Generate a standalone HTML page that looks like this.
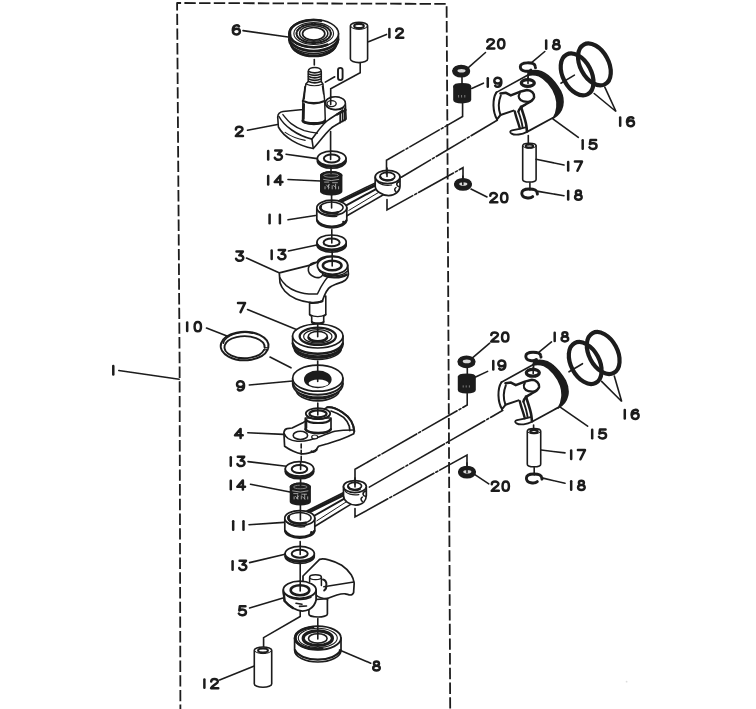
<!DOCTYPE html>
<html><head><meta charset="utf-8"><title>Crankshaft &amp; Piston</title>
<style>
html,body{margin:0;padding:0;background:#fff;font-family:"Liberation Sans",sans-serif;}
svg{display:block}
.o{fill:#fff;stroke:#1c1c1c;stroke-linejoin:round;stroke-linecap:round}
.n{fill:none;stroke:#1c1c1c;stroke-linejoin:round;stroke-linecap:round}
.l{fill:none;stroke:#1c1c1c;stroke-linecap:round}
.k{fill:#1c1c1c;stroke:#1c1c1c;stroke-linejoin:round}
.t path{fill:none;stroke:#1c1c1c;stroke-linecap:round;stroke-linejoin:round}
.h{fill:none;stroke:#1c1c1c;stroke-linecap:round}
.w{fill:#fff;stroke:none}
</style></head>
<body>
<svg width="756" height="709" viewBox="0 0 756 709">
<defs><filter id="b" x="0" y="0" width="756" height="709" filterUnits="userSpaceOnUse"><feGaussianBlur stdDeviation="0.5"/></filter></defs>
<rect width="756" height="709" fill="#fff"/>
<g stroke-width="1.6" filter="url(#b)">
<path class="n" d="M180.4 712 L179.6 365 L177.1 3 L446.6 3.9 L447.5 150 L449 450 L450.2 712" stroke-dasharray="11.4 3.3" stroke-dashoffset="4" stroke-width="1.8" style="stroke-linecap:butt"/>
<g class="t"><path d="M 113.28 366.06 V 374.43" stroke-width="2.5"/></g>
<path class="l" d="M118.8 370.5 L179.2 379.2" />
<path class="o" d="M291.09999999999997 39.5 V43.5 A22.6 13 0 0 0 336.3 43.5 V39.5 Z" />
<path class="n" d="M291.09999999999997 42.7 A22.6 13 0 0 0 336.3 42.7" stroke-width="2.8"/>
<path class="o" d="M288.9 33.5 V39.5 A24.8 14 0 0 0 338.5 39.5 V33.5 Z" />
<path class="n" d="M289.29999999999995 39.5 A24.8 14 0 0 0 338.1 39.5" stroke-width="2.6"/>
<ellipse class="o" cx="313.7" cy="33.5" rx="24.8" ry="14" stroke-width="1.6"/>
<path class="n" d="M327.34 44.7 A23.8 13 0 0 1 289.9 33.5 A23.8 13 0 0 1 321.14 20.7" stroke-width="2.6"/>
<ellipse class="n" cx="313.7" cy="33.5" rx="19.840000000000003" ry="10.92" stroke-width="1.1"/>
<ellipse class="n" cx="313.7" cy="33.5" rx="17.112" ry="9.38" stroke-width="2.2" stroke-dasharray="1.6 1.6" stroke="#555"/>
<ellipse class="n" cx="313.7" cy="33.5" rx="14.136" ry="7.840000000000001" stroke-width="1.5"/>
<ellipse class="o" cx="313.7" cy="33.8" rx="11.16" ry="6.3" stroke-width="1.7"/>
<path class="l" d="M314.3 59.5 L314.3 65" />
<path class="o" d="M350.4 25.8 V59.0 A8.6 3.6 0 0 0 367.6 59.0 V25.8 A8.6 3.6 0 0 0 350.4 25.8 Z" stroke-width="1.6"/>
<path class="n" d="M350.4 25.8 A8.6 3.6 0 0 0 367.6 25.8" stroke-width="1.0"/>
<ellipse class="o" cx="359" cy="26.0" rx="4.816" ry="2.16" stroke-width="2.1"/>
<path class="l" d="M360.2 63 V72.7 L330.7 88.8 V104" />
<g class="t"><path d="M 389.38 28.96 V 37.33" stroke-width="2.5"/><path d="M 396.20 31.08 C 396.20 27.67 402.87 27.67 402.87 30.89 C 402.87 33.10 397.87 34.57 396.10 37.70 H 403.26" stroke-width="2.5"/></g>
<path class="l" d="M386.5 34.4 L368.5 41.7" />
<g class="t"><path d="M 239.07 26.40 C 237.40 24.56 232.79 25.02 232.79 30.26 C 232.79 35.78 239.85 35.60 239.85 31.46 C 239.85 27.78 233.97 27.96 232.89 31.09" stroke-width="2.5"/></g>
<path class="l" d="M243 30.6 L288 37" />
<path class="o" d="M277.7 117 C278 113 280.5 111.8 283 111.5 L303 109.5 L325.5 103 C326 94.8 345 94.8 345.4 104 L346.1 119 L334.7 125.7 C328 129 323 138 313.3 148.5 C298 145.5 284 137.5 278.4 127 Z" stroke-width="1.6"/>
<path class="n" d="M279 116.5 C284 126 297 135.5 311.9 139.1 C318 131 322 125 327 121 C332 117 338 114 342.5 110.5" />
<path class="n" d="M285.1 132.4 C291 136.5 298 139 305.2 140.4" stroke-width="1.1"/>
<path class="n" d="M311.9 139.1 L313.3 148.5" />
<path class="n" d="M282.9 114.6 C286 118.5 288.5 121.5 291.2 123.6 C295 126.6 299.5 129 304.3 130.7 C308.5 132 313 132.8 317.4 133.1" stroke-width="1.4"/>
<ellipse class="o" cx="335.4" cy="103.2" rx="10" ry="6.4" stroke-width="1.5"/>
<path class="n" d="M326 105 C328 110.5 339 111.5 344 107.5" stroke-width="1.2"/>
<ellipse class="o" cx="331.6" cy="103.6" rx="4.6" ry="3.0" stroke-width="1.4"/>
<path class="n" d="M342.6 110 V121.5 M344.8 108.6 V120.4 M340.2 112.6 V122.6" stroke-width="1.7"/>
<path class="n" d="M337 114.5 L345.6 110" stroke-width="2.2"/>
<path class="o" d="M302.5 121 L302.9 101 L305.9 84 L308.2 81.5 V71.5 C308.2 66 321.3 66 321.3 71.5 V81.5 L322.9 84 L324.7 101 L325.3 121 A11.4 3.4 0 0 1 302.5 121 Z" stroke-width="1.5"/>
<path class="n" d="M308.6 71.5 Q314.7 74.1 321 71.5" stroke-width="1.7"/>
<path class="n" d="M308.6 74 Q314.7 76.6 321 74" stroke-width="1.7"/>
<path class="n" d="M308.6 76.5 Q314.7 79.1 321 76.5" stroke-width="1.7"/>
<path class="n" d="M308.6 79 Q314.7 81.6 321 79" stroke-width="1.7"/>
<path class="n" d="M308.6 81.5 Q314.7 84.1 321 81.5" stroke-width="1.7"/>
<path class="n" d="M303 101 Q313.8 105.6 324.6 101" stroke-width="2.4"/>
<path class="n" d="M305.9 84 Q314.4 87.6 322.9 84" stroke-width="1.1"/>
<path class="n" d="M302.9 120.8 A11.4 3.4 0 0 0 325 120.8" stroke-width="2.8"/>
<path class="n" d="M303.9 104 L303.6 119" stroke-width="2.2"/>
<path class="n" d="M305 87 L304 99" stroke-width="1.8"/>
<path class="n" d="M322.3 86 l1.2 8" stroke-width="1.2"/>
<path class="o" d="M338 70.2 a2.3 2.3 0 0 1 4.6 0 v7.6 a2.3 2.3 0 0 1 -4.6 0 Z" stroke-width="1.9"/>
<path class="l" d="M325.3 82.1 L334.7 76.8" />
<g class="t"><path d="M 235.89 129.38 C 235.89 125.97 242.56 125.97 242.56 129.19 C 242.56 131.40 237.56 132.87 235.80 136.00 H 242.95" stroke-width="2.5"/></g>
<path class="l" d="M247.5 130.3 L277.5 124.5" />
<path class="o" d="M317.4 158.3 V161.10000000000002 A14.3 7.2 0 0 0 346.0 161.10000000000002 V158.3 Z" stroke-width="1.6"/>
<path class="n" d="M317.7 161.10000000000002 A14.3 7.2 0 0 0 345.7 161.10000000000002" stroke-width="2.0"/>
<ellipse class="o" cx="331.7" cy="158.3" rx="14.3" ry="7.2" stroke-width="1.7"/>
<ellipse class="o" cx="331.7" cy="158.5" rx="7.865000000000001" ry="3.9600000000000004" stroke-width="2.0"/>
<g class="t"><path d="M 268.18 151.06 V 159.43" stroke-width="2.5"/><path d="M 275.20 150.60 H 281.57 L 278.04 154.37 C 283.14 153.91 283.33 159.80 278.24 159.80 C 276.47 159.80 275.30 159.06 274.81 157.78" stroke-width="2.5"/></g>
<path class="l" d="M286 154.2 L317.3 158.6" />
<path class="k" d="M320.8 175.3 V191.29999999999998 A10.4 3.4 0 0 0 341.59999999999997 191.29999999999998 V175.3 A10.4 3.4 0 0 0 320.8 175.3 Z" />
<ellipse class="k" cx="331.2" cy="175.3" rx="10.4" ry="3.4" />
<ellipse cx="331.2" cy="175.5" rx="7.4" ry="1.7999999999999998" fill="none" stroke="#999" stroke-width="0.8"/>
<path d="M325.0 186.29999999999998 v3" stroke="#aaa" stroke-width="0.9" fill="none"/>
<path d="M328.59999999999997 184.29999999999998 v5" stroke="#aaa" stroke-width="0.9" fill="none"/>
<path d="M332.2 185.29999999999998 v4" stroke="#aaa" stroke-width="0.9" fill="none"/>
<path d="M335.59999999999997 183.79999999999998 v5.5" stroke="#aaa" stroke-width="0.9" fill="none"/>
<path d="M338.59999999999997 186.29999999999998 v3" stroke="#aaa" stroke-width="0.9" fill="none"/>
<path d="M324.2 182.10000000000002 h5 M332.2 182.70000000000002 h5.6 M323.2 179.3 q8 2.6 16 0" stroke="#aaa" stroke-width="0.9" fill="none"/>
<path d="M326.2 184.70000000000002 l3 3 M333.2 185.20000000000002 l3 2.6 M329.7 184.3 l-2.4 3" stroke="#bbb" stroke-width="0.8" fill="none"/>
<g class="t"><path d="M 268.18 176.06 V 184.43" stroke-width="2.5"/><path d="M 280.29 184.80 V 175.60 L 274.71 182.04 H 282.45" stroke-width="2.5"/></g>
<path class="l" d="M288 179.5 L320.5 181" />
<path class="o" d="M338.8 200.60000000000002 L376.00000000000006 182.6 L383.8 194.5 L347.0 215.8 Z" stroke-width="1.6"/>
<path class="n" d="M341.3 201.4 L377.20000000000005 184.2" stroke-width="3"/>
<path class="n" d="M345.8 205.60000000000002 L378.70000000000005 187.6" stroke-width="1.9"/>
<path class="n" d="M348.8 210.4 L380.6 191.2" stroke-width="1.0"/>
<path class="o" d="M375.20000000000005 177 V186 C375.20000000000005 191 381.6 195.3 388.6 195.6 C395.6 195.3 400.0 191 400.0 186 V177 Z" stroke-width="1.7"/>
<ellipse class="o" cx="387.6" cy="177" rx="12.4" ry="6.572000000000001" stroke-width="1.7"/>
<ellipse class="o" cx="387.40000000000003" cy="176.4" rx="7.4399999999999995" ry="3.9432000000000005" stroke-width="1.7"/>
<path class="n" d="M380.408 177 A7.4399999999999995 3.9432000000000005 0 0 0 392.6 179.4" stroke-width="2.2"/>
<path class="n" d="M399.4 181.5 q-3 1 -2.6 3.2 q0.3 1.8 2.4 2" stroke-width="1.6"/>
<path class="n" d="M396.0 187.5 q-2.6 1.8 0 4.4" stroke-width="1.5"/>
<path class="n" d="M376.20000000000005 180 C378.6 184.5 385.6 186 391.6 185" stroke-width="1.2"/>
<path class="o" d="M316.8 207.8 V219.8 A15 8 0 0 0 346.8 219.8 V207.8 Z" stroke-width="1.7"/>
<ellipse class="o" cx="331.8" cy="207.8" rx="15" ry="7.6" stroke-width="1.7"/>
<path class="n" d="M317.2 220.4 A15 8 0 0 0 346.40000000000003 220.4" stroke-width="2.2"/>
<ellipse class="o" cx="331.5" cy="207.60000000000002" rx="11.6" ry="5.5" stroke-width="1.5"/>
<path class="n" d="M320.8 206.3 A11.6 5.5 0 0 0 337.8 212.4" stroke-width="2.6"/>
<path class="n" d="M317.8 210.8 C321.8 215.8 329.8 217.3 336.8 216.3" stroke-width="1.3"/>
<circle cx="343.40000000000003" cy="222.0" r="1.3" fill="#1c1c1c"/>
<g class="t"><path d="M 269.58 214.86 V 223.23" stroke-width="2.5"/><path d="M 279.88 214.86 V 223.23" stroke-width="2.5"/></g>
<path class="l" d="M288 219.8 L315.5 215.5" />
<path class="l" d="M386.5 174 V160.3 L462.6 116.5 V103" stroke-dasharray="34 2.2 2.2 2.2"/>
<path class="l" d="M401.3 177.2 L497.6 120" stroke-dasharray="34 2.2 2.2 2.2"/>
<path class="l" d="M387 199.5 V210 L463 167.7 V181.5" stroke-dasharray="40 2.2 2.2 2.2"/>
<path class="o" d="M317.0 242.2 V245.0 A14.6 7.2 0 0 0 346.20000000000005 245.0 V242.2 Z" stroke-width="1.6"/>
<path class="n" d="M317.3 245.0 A14.6 7.2 0 0 0 345.90000000000003 245.0" stroke-width="2.0"/>
<ellipse class="o" cx="331.6" cy="242.2" rx="14.6" ry="7.2" stroke-width="1.7"/>
<ellipse class="o" cx="331.6" cy="242.39999999999998" rx="8.030000000000001" ry="3.9600000000000004" stroke-width="2.0"/>
<g class="t"><path d="M 271.68 250.56 V 258.93" stroke-width="2.5"/><path d="M 278.70 250.10 H 285.07 L 281.54 253.87 C 286.64 253.41 286.83 259.30 281.74 259.30 C 279.97 259.30 278.80 258.56 278.31 257.28" stroke-width="2.5"/></g>
<path class="l" d="M288.5 251 L318 244.8" />
<path class="o" d="M309.6 298 V314.6 L311.7 316.4 V322 A6 1.8 0 0 0 323.7 322 V316.4 L325.8 314.6 V296 Z" stroke-width="1.6"/>
<path class="n" d="M309.6 314.6 Q317.7 318.6 325.8 314.6" stroke-width="1.4"/>
<path class="n" d="M311.9 321.8 A6 1.8 0 0 0 323.5 321.8" stroke-width="1.9"/>
<path class="o" d="M279.3 272.9 L310.3 265.1 L317.4 262 C320 253.6 347.5 253.6 347.7 265.9 L348.4 274.3 C348 277.6 346.6 279 345.6 280 C342 282.6 339 283 335.7 284.2 C332.5 285.4 330.4 286.6 328.6 288.4 C326.4 291 325.2 293.6 324.4 295.5 L322.3 301.1 C318 302.8 314 303 310.3 302.5 C305 301.8 300 300.6 296.2 299 C291.4 297 287.6 294.2 284.9 291.2 C282.4 288.4 280.8 285.6 280 282.8 Z" stroke-width="1.7"/>
<path class="n" d="M279.8 277.5 C281.4 280.6 283.6 283.2 286.3 285.6 C289 287.8 292.4 289.8 296.2 291.2 C302 293.4 310 294.4 317.4 294 C319.4 289.6 321.6 285.4 324.4 281.4 C326 279 328 276.8 330 275" stroke-width="1.5"/>
<path class="n" d="M309.8 302.6 Q316 303.4 322.4 301.2" stroke-width="2.2"/>
<ellipse class="o" cx="332.5" cy="265.5" rx="15.1" ry="8.8" stroke-width="1.7"/>
<path class="n" d="M318.6 269.5 C322 276.6 340 278.6 347.6 271" stroke-width="1.5"/>
<path class="n" d="M324 275.4 C330 278.4 341 278 346.6 274.6" stroke-width="2.4"/>
<ellipse class="o" cx="332.2" cy="265.5" rx="9.3" ry="4.8" stroke-width="2.6"/>
<path class="n" d="M317 262.2 C312.6 262.2 309 264.2 308.4 268.2 C307.8 272 310.4 275.4 314.4 277 C318 278.4 321.6 277.4 322.6 275 C323.4 273.2 322.4 272 320.4 271.4" stroke-width="1.6"/>
<g class="t"><path d="M 236.49 251.60 H 242.86 L 239.33 255.37 C 244.43 254.91 244.62 260.80 239.53 260.80 C 237.76 260.80 236.59 260.06 236.10 258.78" stroke-width="2.5"/></g>
<path class="l" d="M246.5 258 L278.5 272.4" />
<path class="o" d="M294.20000000000005 344 V348 A23.599999999999998 11.5 0 0 0 341.4 348 V344 Z" stroke-width="1.6"/>
<path class="n" d="M294.5 347.8 A23.599999999999998 11.5 0 0 0 341.1 347.8" stroke-width="2.6"/>
<path class="o" d="M292.6 336 V344 A25.2 12 0 0 0 343.0 344 V336 Z" stroke-width="1.7"/>
<path class="n" d="M292.90000000000003 343.6 A25.2 12 0 0 0 342.7 343.6" stroke-width="2.6"/>
<ellipse class="o" cx="317.8" cy="336" rx="25.2" ry="12" stroke-width="1.7"/>
<ellipse class="n" cx="317.8" cy="336.3" rx="18.144" ry="8.64" stroke-width="2.3"/>
<ellipse class="n" cx="317.8" cy="336.4" rx="14.112" ry="6.720000000000001" stroke-width="1.2"/>
<ellipse class="o" cx="317.8" cy="336.4" rx="9.576" ry="5.04" stroke-width="1.6"/>
<path class="n" d="M308.728 338 A9.576 5.04 0 0 0 326.872 338" stroke-width="2.8"/>
<path class="n" d="M297.0 348.2 l1.6 1.4" stroke-width="1.4"/>
<g class="t"><path d="M 238.00 302.90 H 245.05 L 240.54 312.10" stroke-width="2.5"/></g>
<path class="l" d="M247.5 309.5 L296.4 329.4" />
<g transform="translate(244.8 345.3)"><path class="n" d="M22.9 4.4 A23.9 14.2 0 1 1 23.5 2.6" stroke-width="2.0"/><path class="n" d="M19.2 4.6 A20.1 11.0 0 1 1 19.8 2.4" stroke-width="1.9"/><path class="n" d="M22.9 4.4 L19.2 4.6 M23.5 2.6 L19.8 2.4" stroke-width="1.3"/><path class="n" d="M-21.5 -2 A22 12.7 0 0 1 8 -12.2" stroke-width="1.6"/></g>
<g class="t"><path d="M 187.18 322.56 V 330.93" stroke-width="2.5"/><path d="M 197.78 322.10 C 193.52 322.10 193.52 331.30 197.78 331.30 C 202.05 331.30 202.05 322.10 197.78 322.10 Z" stroke-width="2.5"/></g>
<path class="l" d="M206.5 328 L227 336" />
<path class="l" d="M270 357 L291 367.8" />
<path class="o" d="M295.7 384.2 V388.7 A22.1 12.2 0 0 0 339.90000000000003 388.7 V384.2 Z" stroke-width="1.6"/>
<path class="n" d="M296.0 388.5 A22.1 12.2 0 0 0 339.6 388.5" stroke-width="2.2"/>
<path class="o" d="M292.7 378.2 V384.2 A25.1 13 0 0 0 342.90000000000003 384.2 V378.2 Z" stroke-width="1.7"/>
<path class="n" d="M293.0 383.8 A25.1 13 0 0 0 342.6 383.8" stroke-width="2.0"/>
<ellipse class="o" cx="317.8" cy="378.2" rx="25.1" ry="13" stroke-width="1.7"/>
<ellipse class="k" cx="317.8" cy="379.4" rx="13.052000000000001" ry="8.06" />
<ellipse cx="318.6" cy="383.2" rx="10.040000000000001" ry="3.6400000000000006" fill="#fff" stroke="none"/>
<g class="t"><path d="M 237.88 389.40 C 239.45 391.24 244.06 390.78 244.06 385.54 C 244.06 380.02 237.00 380.20 237.00 384.34 C 237.00 388.02 242.88 387.84 243.96 384.71" stroke-width="2.5"/></g>
<path class="l" d="M249.3 385 L292.6 381" />
<path class="o" d="M283.9 432.4 C284.4 429.6 285.6 428.8 287.1 428.6 L292.1 428 L303.4 422.4 L327.3 407.3 C333 406.6 338 409.4 342.4 412.3 C346.6 415 349.4 418 351.2 421.1 C353 424.4 354 427.8 354.3 431.2 L353.7 433.7 C350 435.6 346.4 437.2 342.4 438.7 C337.6 440.6 332.4 442.2 327.3 443.8 L318.5 446.3 L316 450 C313.6 451.6 311 452.6 308.4 453.2 C306.4 453.7 304.2 453.9 302.2 453.8 C299 453.6 296 452.6 293.4 451.3 C290.2 449.8 287.2 448.2 284.6 446.3 Z" stroke-width="1.7"/>
<path class="n" d="M331 411 C335.6 412.4 339.8 414.6 343.6 417.4 C346.4 420 348.2 423 349.3 426.2 L349.8 430.6" stroke-width="1.7"/>
<path class="n" d="M327.3 407.3 C333 406.6 338 409.4 342.4 412.3 C346.6 415 349.4 418 351.2 421.1 C353 424.4 354 427.8 354.3 431.2" stroke-width="2.0"/>
<path class="n" d="M284.2 433.6 C285.2 436 286.6 437.6 288.3 438.7 C291 440.3 294 441 297.1 441.2 C301.4 441.4 305.6 441 309.7 440 C313.6 439 317.4 437.6 321 436.2 C325.6 434.4 330.2 432.6 334.8 431.2 C341 430.2 347.4 430 353.7 430" stroke-width="1.5"/>
<ellipse class="o" cx="300.4" cy="435.4" rx="7.2" ry="4.1" stroke-width="1.6"/>
<ellipse class="o" cx="314.7" cy="436.9" rx="3.0" ry="1.9" stroke-width="1.2"/>
<path class="n" d="M311.6 451.4 q2.4 1.4 5 -1.6" stroke-width="2.2"/>
<path class="o" d="M305.3 418 V429.2 A12.9 4.6 0 0 0 331 429.2 V418 Z" stroke-width="1.7"/>
<path class="n" d="M305.6 429.4 A12.9 4.6 0 0 0 330.7 429.4" stroke-width="2.6"/>
<path class="n" d="M306 419.6 A12.4 4.4 0 0 0 330.2 419.6" stroke-width="2.0"/>
<path class="n" d="M306.2 420 V428" stroke-width="2.2"/>
<ellipse class="o" cx="318" cy="413.6" rx="12.2" ry="5.4" stroke-width="1.8"/>
<ellipse class="o" cx="318" cy="413.8" rx="8.6" ry="3.5" stroke-width="2.3"/>
<path class="n" d="M306.4 415.6 A12.2 5.4 0 0 0 329.6 415.6" stroke-width="1.3"/>
<g class="t"><path d="M 240.59 438.10 V 428.90 L 235.00 435.34 H 242.74" stroke-width="2.5"/></g>
<path class="l" d="M247.8 432.7 L283.5 434.4" />
<path class="l" d="M301.2 444 V466" stroke-dasharray="4 2.2"/>
<path class="o" d="M285.3 468.8 V471.6 A14.2 7.2 0 0 0 313.7 471.6 V468.8 Z" stroke-width="1.6"/>
<path class="n" d="M285.6 471.6 A14.2 7.2 0 0 0 313.4 471.6" stroke-width="2.0"/>
<ellipse class="o" cx="299.5" cy="468.8" rx="14.2" ry="7.2" stroke-width="1.7"/>
<ellipse class="o" cx="299.5" cy="469.0" rx="7.8100000000000005" ry="3.9600000000000004" stroke-width="2.0"/>
<g class="t"><path d="M 230.78 457.26 V 465.63" stroke-width="2.5"/><path d="M 237.80 456.80 H 244.17 L 240.64 460.57 C 245.74 460.11 245.93 466.00 240.84 466.00 C 239.07 466.00 237.90 465.26 237.41 463.98" stroke-width="2.5"/></g>
<path class="l" d="M248 461.6 L286.3 466.2" />
<path class="k" d="M290.5 486.79999999999995 V501.40000000000003 A9.8 3.4 0 0 0 310.1 501.40000000000003 V486.79999999999995 A9.8 3.4 0 0 0 290.5 486.79999999999995 Z" />
<ellipse class="k" cx="300.3" cy="486.79999999999995" rx="9.8" ry="3.4" />
<ellipse cx="300.3" cy="486.99999999999994" rx="6.800000000000001" ry="1.7999999999999998" fill="none" stroke="#999" stroke-width="0.8"/>
<path d="M294.1 496.40000000000003 v3" stroke="#aaa" stroke-width="0.9" fill="none"/>
<path d="M297.7 494.40000000000003 v5" stroke="#aaa" stroke-width="0.9" fill="none"/>
<path d="M301.3 495.40000000000003 v4" stroke="#aaa" stroke-width="0.9" fill="none"/>
<path d="M304.7 493.90000000000003 v5.5" stroke="#aaa" stroke-width="0.9" fill="none"/>
<path d="M307.7 496.40000000000003 v3" stroke="#aaa" stroke-width="0.9" fill="none"/>
<path d="M293.3 493.59999999999997 h5 M301.3 494.2 h5.6 M292.3 490.8 q8 2.6 16 0" stroke="#aaa" stroke-width="0.9" fill="none"/>
<path d="M295.3 496.2 l3 3 M302.3 496.7 l3 2.6 M298.8 495.8 l-2.4 3" stroke="#bbb" stroke-width="0.8" fill="none"/>
<g class="t"><path d="M 230.78 480.86 V 489.23" stroke-width="2.5"/><path d="M 242.89 489.60 V 480.40 L 237.31 486.84 H 245.05" stroke-width="2.5"/></g>
<path class="l" d="M250.5 484.2 L290 492" />
<path class="o" d="M306.8 511.00000000000006 L344.3 492.20000000000005 L351.09999999999997 504.1 L315.0 526.2 Z" stroke-width="1.6"/>
<path class="n" d="M309.3 511.80000000000007 L345.5 493.8" stroke-width="3"/>
<path class="n" d="M313.8 516.0 L347.0 497.20000000000005" stroke-width="1.9"/>
<path class="n" d="M316.8 520.8000000000001 L347.9 500.8" stroke-width="1.0"/>
<path class="o" d="M343.5 486.6 V495.6 C343.5 500.6 348.9 504.90000000000003 355.9 505.20000000000005 C362.9 504.90000000000003 366.29999999999995 500.6 366.29999999999995 495.6 V486.6 Z" stroke-width="1.7"/>
<ellipse class="o" cx="354.9" cy="486.6" rx="11.4" ry="6.042000000000001" stroke-width="1.7"/>
<ellipse class="o" cx="354.7" cy="486.0" rx="6.84" ry="3.6252000000000004" stroke-width="1.7"/>
<path class="n" d="M348.28799999999995 486.6 A6.84 3.6252000000000004 0 0 0 359.9 489.0" stroke-width="2.2"/>
<path class="n" d="M365.69999999999993 491.1 q-3 1 -2.6 3.2 q0.3 1.8 2.4 2" stroke-width="1.6"/>
<path class="n" d="M362.29999999999995 497.1 q-2.6 1.8 0 4.4" stroke-width="1.5"/>
<path class="n" d="M344.5 489.6 C345.9 494.1 352.9 495.6 358.9 494.6" stroke-width="1.2"/>
<path class="o" d="M284.8 518.2 V530.2 A15 8 0 0 0 314.8 530.2 V518.2 Z" stroke-width="1.7"/>
<ellipse class="o" cx="299.8" cy="518.2" rx="15" ry="7.6" stroke-width="1.7"/>
<path class="n" d="M285.2 530.8000000000001 A15 8 0 0 0 314.40000000000003 530.8000000000001" stroke-width="2.2"/>
<ellipse class="o" cx="299.5" cy="518.0" rx="11.6" ry="5.5" stroke-width="1.5"/>
<path class="n" d="M288.8 516.7 A11.6 5.5 0 0 0 305.8 522.8000000000001" stroke-width="2.6"/>
<path class="n" d="M285.8 521.2 C289.8 526.2 297.8 527.7 304.8 526.7" stroke-width="1.3"/>
<circle cx="311.40000000000003" cy="532.4000000000001" r="1.3" fill="#1c1c1c"/>
<g class="t"><path d="M 233.18 521.36 V 529.73" stroke-width="2.5"/><path d="M 243.48 521.36 V 529.73" stroke-width="2.5"/></g>
<path class="l" d="M249 524.8 L284 522.4" />
<path class="l" d="M355 484.8 V469.3 L467.2 405 V393.5" stroke-dasharray="40 2.2 2.2 2.2"/>
<path class="l" d="M369.3 487.1 L503.8 409.8" stroke-dasharray="40 2.2 2.2 2.2"/>
<path class="l" d="M355 508.6 V517 L467 455 V468" stroke-dasharray="46 2.2 2.2 2.2"/>
<path class="o" d="M285.09999999999997 553.5 V556.3 A14.6 7.2 0 0 0 314.3 556.3 V553.5 Z" stroke-width="1.6"/>
<path class="n" d="M285.4 556.3 A14.6 7.2 0 0 0 314.0 556.3" stroke-width="2.0"/>
<ellipse class="o" cx="299.7" cy="553.5" rx="14.6" ry="7.2" stroke-width="1.7"/>
<ellipse class="o" cx="299.7" cy="553.7" rx="8.030000000000001" ry="3.9600000000000004" stroke-width="2.0"/>
<g class="t"><path d="M 232.58 561.26 V 569.63" stroke-width="2.5"/><path d="M 239.60 560.80 H 245.97 L 242.44 564.57 C 247.54 564.11 247.73 570.00 242.64 570.00 C 240.87 570.00 239.70 569.26 239.21 567.98" stroke-width="2.5"/></g>
<path class="l" d="M249.6 562.6 L285 554.2" />
<path class="o" d="M303 576 L319.6 559.3 C322.6 558.6 325.6 559 328.6 559.9 C333.4 561.2 337.8 562.8 341.7 565.2 C345.6 567.8 348.8 571 351.2 574.8 C352.8 577.4 353.8 580.2 354.2 583.1 L353.6 592.6 C352.8 594.4 351.6 595 350 595 C348.4 594.8 346.8 594 345.2 593.8 C342.4 593.6 339.6 594.2 336.9 595 C333.6 596 330.4 597.2 327.4 598.6 L327.4 600 L303 600 Z" stroke-width="1.7"/>
<path class="n" d="M323.8 586.7 L353.8 581.9" stroke-width="1.5"/>
<path class="o" d="M308.9 600 V614 A9.25 3 0 0 0 327.4 614 V598.6 Z" stroke-width="1.7"/>
<path class="o" d="M283.3 590.2 L284.5 601 C287 603.8 289.8 606.2 292.9 608.1 C295.8 609.8 299 610.8 302.4 611.1 C305 611 307.4 610.4 309.5 609.3 C313 607 315.4 603.6 316.1 600 L316.1 590 Z" stroke-width="1.8"/>
<path class="n" d="M283.6 592 L284.6 601 C287 603.8 289.8 606.2 292.9 608.1" stroke-width="2.3"/>
<path class="n" d="M316.1 595 C318.6 597.6 322.6 598.6 327.4 598.6" stroke-width="1.5"/>
<ellipse class="o" cx="299.7" cy="589.8" rx="16.4" ry="8.6" stroke-width="1.8"/>
<path class="n" d="M286 594.6 C290 599.6 302 601.2 311 597.4" stroke-width="1.3"/>
<path class="n" d="M296 603.2 l6 1 M299.5 606.4 l7 -0.4" stroke-width="1.6"/>
<ellipse class="o" cx="300" cy="590.2" rx="9.3" ry="5.0" stroke-width="2.6"/>
<path class="o" d="M309.6 582 V577.2 A5.9 2.4 0 0 1 321.4 577.2 V585.6" stroke-width="1.5"/>
<path class="n" d="M309.6 577.2 A5.9 2.4 0 0 0 321.4 577.2" stroke-width="1.2"/>
<path class="n" d="M323 579.5 q3.6 1 3.4 5.2 M324.2 590.4 q2.4 -1.4 2 -4.6" stroke-width="2.0"/>
<g class="t"><path d="M 245.46 606.20 H 239.87 L 239.29 610.43 C 241.05 608.96 245.95 609.14 245.95 612.27 C 245.95 615.95 240.07 616.14 238.80 613.56" stroke-width="2.5"/></g>
<path class="l" d="M249.6 608 L283 598" />
<path class="l" d="M300.2 611 V616.5 L263.6 637.6 V648" />
<path class="o" d="M294.6 638 V650.2 A23.2 11.8 0 0 0 341.0 650.2 V638 Z" stroke-width="1.7"/>
<path class="n" d="M295.1 650.2 A23.2 11.8 0 0 0 340.5 650.2" stroke-width="2.2"/>
<ellipse class="o" cx="317.8" cy="638" rx="23.2" ry="11.8" stroke-width="1.8"/>
<path class="n" d="M322.44 648.8 A22.2 10.8 0 0 1 295.6 638 A22.2 10.8 0 0 1 313.16 627.2" stroke-width="2.4"/>
<ellipse class="n" cx="317.8" cy="638" rx="19.488" ry="9.676" stroke-width="1.1"/>
<ellipse class="n" cx="317.8" cy="638.2" rx="14.616" ry="7.316000000000001" stroke-width="3.2"/>
<ellipse class="o" cx="317.8" cy="638.4" rx="9.28" ry="4.720000000000001" stroke-width="1.6"/>
<path class="n" d="M297.8 653.7 l1.8 1.2" stroke-width="1.4"/>
<g class="t"><path d="M 376.48 665.63 C 373.00 665.63 373.29 661.40 376.48 661.40 C 379.66 661.40 379.95 665.63 376.48 665.63 C 372.11 665.63 372.02 670.60 376.48 670.60 C 380.93 670.60 380.84 665.63 376.48 665.63 Z" stroke-width="2.5"/></g>
<path class="l" d="M370.7 663.2 L339.5 650" />
<path class="o" d="M254.3 650.3 V683.9000000000001 A8.7 3.3 0 0 0 271.7 683.9000000000001 V650.3 A8.7 3.3 0 0 0 254.3 650.3 Z" stroke-width="1.6"/>
<path class="n" d="M254.3 650.3 A8.7 3.3 0 0 0 271.7 650.3" stroke-width="1.0"/>
<ellipse class="o" cx="263" cy="650.5" rx="4.872" ry="1.9799999999999998" stroke-width="2.1"/>
<g class="t"><path d="M 204.38 679.46 V 687.83" stroke-width="2.5"/><path d="M 211.20 681.58 C 211.20 678.17 217.87 678.17 217.87 681.39 C 217.87 683.60 212.87 685.07 211.10 688.20 H 218.26" stroke-width="2.5"/></g>
<path class="l" d="M219.6 680 L254.3 665.9" />
<path class="k" d="M453.09999999999997 70.5 V71.7 A8.1 5.0 0 0 0 469.3 71.7 V70.5 Z" />
<ellipse class="k" cx="461.2" cy="70.5" rx="8.1" ry="5.0" />
<ellipse cx="461.5" cy="70.7" rx="4.05" ry="1.7999999999999998" fill="#d8d8d8" stroke="none"/>
<path class="l" d="M462.0 77.0 L462.0 83.5" />
<path class="k" d="M454.0 86.39999999999999 V100.0 A8.2 2.6 0 0 0 470.4 100.0 V86.39999999999999 A8.2 2.6 0 0 1 454.0 86.39999999999999 Z" />
<ellipse class="k" cx="462.2" cy="86.39999999999999" rx="8.2" ry="2.6" />
<path d="M458.59999999999997 95.0 V97.5" stroke="#888" stroke-width="0.9" fill="none"/>
<path d="M461.59999999999997 95.0 V97.5" stroke="#888" stroke-width="0.9" fill="none"/>
<path d="M464.8 95.0 V97.5" stroke="#888" stroke-width="0.9" fill="none"/>
<path class="w" d="M496.4 92.4 L527.5 75.2 L529.3 71.4 C541 68 556 78 560.5 91.2 C564.5 101 563 111 553.3 118.1 L527 131.9 C523 134 517 135.5 512 133.7 L510.2 131.9 L497 119.3 C492.5 112 492 99 496.4 92.4 Z" transform="translate(0 0)"/>
<path class="n" d="M496.4 92.4 L528 75" transform="translate(0 0)" stroke-width="1.6"/>
<path class="n" d="M553 117.8 L527 131.9 C522 134.6 515 135.6 511.6 133.6 C509.4 132.3 510 130.9 512 130.4 L519.5 128.8 L525.5 127.3" transform="translate(0 0)" stroke-width="1.8"/>
<path class="k" d="M529.3 71.4 C541 68 552 76.5 560.5 91.2 C565 100.5 564 112 553.3 118.1 C557.5 112 558 103 555.7 96 C552.5 86.5 545 78.5 538.9 75.8 C535 74.4 531 74.5 528 75.3 Z" transform="translate(0 0)"/>
<path class="n" d="M496.4 92.4 C492.2 99 492.6 112 497 119.3" transform="translate(0 0)" stroke-width="2.0"/>
<path class="n" d="M500.8 95.5 C498.2 102 498.6 110 500.5 115" transform="translate(0 0)" stroke-width="2.0"/>
<path class="n" d="M497 119.3 L500.5 115 L513.5 110.6" transform="translate(0 0)" stroke-width="2.0"/>
<path class="n" d="M500.4 93.4 L506 92.8 L510.8 95.4 L519.8 91.8 L527 90 C531.2 90 534.6 93.5 534.1 97.2 C533.5 100.6 529 102.2 525.7 104.3 C522 106.2 519 108.6 518.4 111.6" transform="translate(0 0)" stroke-width="2.5"/>
<path class="n" d="M519.8 93 C517.4 96.6 519.4 100.5 523.4 101.3 C527 102 530.4 101.6 531.8 100.6" transform="translate(0 0)" stroke-width="2.2"/>
<path class="n" d="M521 106.7 C522.4 112 525.6 120 526.4 126 L527 131.5" transform="translate(0 0)" stroke-width="2.6"/>
<path class="n" d="M514.8 111.4 C516 117 518.4 123 519.8 128.4" transform="translate(0 0)" stroke-width="2.4"/>
<path class="n" d="M518.5 112 C520.5 117.5 522 122.5 522.6 127.5" transform="translate(0 0)" stroke-width="1.9"/>
<ellipse class="o" cx="527.8" cy="83" rx="6.5" ry="3.4" stroke-width="3.3"/>
<path class="n" d="M535.5 67.7 L535.2 66.2 C534.5 61.8 520.3 61.4 520.3 66.8 C520.3 72.0 528.66 72.0 530.9399999999999 70.08" stroke-width="2.9"/>
<path class="l" d="M528.1 72.3 L528.1 80.3" />
<ellipse class="n" cx="594.4" cy="64.4" rx="14.2" ry="22.5" transform="rotate(-28 594.4 64.4)" stroke-width="4.2"/>
<ellipse class="n" cx="577.1" cy="74.4" rx="14.2" ry="22.5" transform="rotate(-28 577.1 74.4)" stroke-width="4.2"/>
<path class="l" d="M560.9 83.2 L574.4 75.10000000000001" />
<path class="o" d="M522.6999999999999 145.79999999999998 V179.4 A6.7 2.6 0 0 0 536.1 179.4 V145.79999999999998 A6.7 2.6 0 0 0 522.6999999999999 145.79999999999998 Z" stroke-width="1.6"/>
<path class="n" d="M522.6999999999999 145.79999999999998 A6.7 2.6 0 0 0 536.1 145.79999999999998" stroke-width="1.0"/>
<ellipse class="o" cx="529.4" cy="145.99999999999997" rx="3.7520000000000007" ry="1.56" stroke-width="2.1"/>
<path class="l" d="M528.3 135.5 L528.3 144.5" />
<path class="l" d="M529.9 182.8 L529.9 190" />
<path class="n" d="M537.4 194.1 L537.1 192.6 C536.4 187.95 521.8000000000001 187.53 521.8000000000001 193.2 C521.8000000000001 198.66 530.38 198.66 532.72 196.64399999999998" stroke-width="2.9"/>
<path class="k" d="M454.9 183.8 V185.0 A8.1 5.0 0 0 0 471.1 185.0 V183.8 Z" />
<ellipse class="k" cx="463" cy="183.8" rx="8.1" ry="5.0" />
<ellipse cx="463.3" cy="184.0" rx="4.05" ry="1.7999999999999998" fill="#d8d8d8" stroke="none"/>
<g class="t"><path d="M 487.29 41.78 C 487.29 38.37 493.96 38.37 493.96 41.59 C 493.96 43.80 488.96 45.27 487.20 48.40 H 494.35" stroke-width="2.5"/><path d="M 501.23 39.20 C 496.96 39.20 496.96 48.40 501.23 48.40 C 505.49 48.40 505.49 39.20 501.23 39.20 Z" stroke-width="2.5"/></g>
<path class="l" d="M485.5 52.5 L467.5 68.4" />
<g class="t"><path d="M 487.78 78.26 V 86.63" stroke-width="2.5"/><path d="M 495.19 85.80 C 496.76 87.64 501.36 87.18 501.36 81.94 C 501.36 76.42 494.31 76.60 494.31 80.74 C 494.31 84.42 500.19 84.24 501.27 81.11" stroke-width="2.5"/></g>
<path class="l" d="M483.4 83.2 L471.7 88.5" />
<g class="t"><path d="M 546.18 40.46 V 48.83" stroke-width="2.5"/><path d="M 556.38 44.23 C 552.90 44.23 553.20 40.00 556.38 40.00 C 559.57 40.00 559.86 44.23 556.38 44.23 C 552.02 44.23 551.92 49.20 556.38 49.20 C 560.84 49.20 560.74 44.23 556.38 44.23 Z" stroke-width="2.5"/></g>
<path class="l" d="M544.8 51.5 L531 63.2" />
<g class="t"><path d="M 620.18 117.46 V 125.83" stroke-width="2.5"/><path d="M 633.27 118.20 C 631.61 116.36 627.00 116.82 627.00 122.06 C 627.00 127.58 634.06 127.40 634.06 123.26 C 634.06 119.58 628.18 119.76 627.10 122.89" stroke-width="2.5"/></g>
<path class="l" d="M594.2 93.5 L616 111.5 L604.8 87.1" />
<g class="t"><path d="M 582.68 140.36 V 148.73" stroke-width="2.5"/><path d="M 596.07 139.90 H 590.48 L 589.89 144.13 C 591.66 142.66 596.56 142.84 596.56 145.97 C 596.56 149.65 590.68 149.84 589.40 147.26" stroke-width="2.5"/></g>
<path class="l" d="M552.5 118.6 L578.3 137.4" />
<g class="t"><path d="M 568.18 162.06 V 170.43" stroke-width="2.5"/><path d="M 574.90 161.60 H 581.96 L 577.45 170.80" stroke-width="2.5"/></g>
<path class="l" d="M536.1 159.2 L564 165" />
<g class="t"><path d="M 568.18 191.06 V 199.43" stroke-width="2.5"/><path d="M 578.38 194.83 C 574.90 194.83 575.20 190.60 578.38 190.60 C 581.57 190.60 581.86 194.83 578.38 194.83 C 574.02 194.83 573.92 199.80 578.38 199.80 C 582.84 199.80 582.74 194.83 578.38 194.83 Z" stroke-width="2.5"/></g>
<path class="l" d="M538.2 191.4 L564 195.7" />
<g class="t"><path d="M 490.29 195.68 C 490.29 192.27 496.96 192.27 496.96 195.49 C 496.96 197.70 491.96 199.17 490.20 202.30 H 497.35" stroke-width="2.5"/><path d="M 504.23 193.10 C 499.96 193.10 499.96 202.30 504.23 202.30 C 508.49 202.30 508.49 193.10 504.23 193.10 Z" stroke-width="2.5"/></g>
<path class="l" d="M471 189 L487 197" />
<path class="k" d="M458.4 361.2 V362.4 A8.1 5.0 0 0 0 474.6 362.4 V361.2 Z" />
<ellipse class="k" cx="466.5" cy="361.2" rx="8.1" ry="5.0" />
<ellipse cx="466.8" cy="361.4" rx="4.05" ry="1.7999999999999998" fill="#d8d8d8" stroke="none"/>
<path class="l" d="M467.3 367.7 L467.3 374.2" />
<path class="k" d="M458.6 376.8 V390.0 A8.2 2.6 0 0 0 475.0 390.0 V376.8 A8.2 2.6 0 0 1 458.6 376.8 Z" />
<ellipse class="k" cx="466.8" cy="376.8" rx="8.2" ry="2.6" />
<path d="M463.2 385.4 V387.5" stroke="#888" stroke-width="0.9" fill="none"/>
<path d="M466.2 385.4 V387.5" stroke="#888" stroke-width="0.9" fill="none"/>
<path d="M469.40000000000003 385.4 V387.5" stroke="#888" stroke-width="0.9" fill="none"/>
<path class="w" d="M496.4 92.4 L527.5 75.2 L529.3 71.4 C541 68 556 78 560.5 91.2 C564.5 101 563 111 553.3 118.1 L527 131.9 C523 134 517 135.5 512 133.7 L510.2 131.9 L497 119.3 C492.5 112 492 99 496.4 92.4 Z" transform="translate(5 289.8)"/>
<path class="n" d="M496.4 92.4 L528 75" transform="translate(5 289.8)" stroke-width="1.6"/>
<path class="n" d="M553 117.8 L527 131.9 C522 134.6 515 135.6 511.6 133.6 C509.4 132.3 510 130.9 512 130.4 L519.5 128.8 L525.5 127.3" transform="translate(5 289.8)" stroke-width="1.8"/>
<path class="k" d="M529.3 71.4 C541 68 552 76.5 560.5 91.2 C565 100.5 564 112 553.3 118.1 C557.5 112 558 103 555.7 96 C552.5 86.5 545 78.5 538.9 75.8 C535 74.4 531 74.5 528 75.3 Z" transform="translate(5 289.8)"/>
<path class="n" d="M496.4 92.4 C492.2 99 492.6 112 497 119.3" transform="translate(5 289.8)" stroke-width="2.0"/>
<path class="n" d="M500.8 95.5 C498.2 102 498.6 110 500.5 115" transform="translate(5 289.8)" stroke-width="2.0"/>
<path class="n" d="M497 119.3 L500.5 115 L513.5 110.6" transform="translate(5 289.8)" stroke-width="2.0"/>
<path class="n" d="M500.4 93.4 L506 92.8 L510.8 95.4 L519.8 91.8 L527 90 C531.2 90 534.6 93.5 534.1 97.2 C533.5 100.6 529 102.2 525.7 104.3 C522 106.2 519 108.6 518.4 111.6" transform="translate(5 289.8)" stroke-width="2.5"/>
<path class="n" d="M519.8 93 C517.4 96.6 519.4 100.5 523.4 101.3 C527 102 530.4 101.6 531.8 100.6" transform="translate(5 289.8)" stroke-width="2.2"/>
<path class="n" d="M521 106.7 C522.4 112 525.6 120 526.4 126 L527 131.5" transform="translate(5 289.8)" stroke-width="2.6"/>
<path class="n" d="M514.8 111.4 C516 117 518.4 123 519.8 128.4" transform="translate(5 289.8)" stroke-width="2.4"/>
<path class="n" d="M518.5 112 C520.5 117.5 522 122.5 522.6 127.5" transform="translate(5 289.8)" stroke-width="1.9"/>
<ellipse class="o" cx="532.8" cy="372.8" rx="6.5" ry="3.4" stroke-width="3.3"/>
<path class="n" d="M541.0 357.09999999999997 L540.7 355.59999999999997 C540.0 351.2 525.8 350.8 525.8 356.2 C525.8 361.4 534.16 361.4 536.4399999999999 359.47999999999996" stroke-width="2.9"/>
<path class="l" d="M533.6 361.7 L533.6 369.7" />
<ellipse class="n" cx="603.2" cy="353" rx="14.2" ry="22.5" transform="rotate(-28 603.2 353)" stroke-width="4.2"/>
<ellipse class="n" cx="585.2" cy="363" rx="14.2" ry="22.5" transform="rotate(-28 585.2 363)" stroke-width="4.2"/>
<path class="l" d="M569.0 371.8 L582.5 363.7" />
<path class="o" d="M527.3 431.20000000000005 V464.2 A6.7 2.6 0 0 0 540.7 464.2 V431.20000000000005 A6.7 2.6 0 0 0 527.3 431.20000000000005 Z" stroke-width="1.6"/>
<path class="n" d="M527.3 431.20000000000005 A6.7 2.6 0 0 0 540.7 431.20000000000005" stroke-width="1.0"/>
<ellipse class="o" cx="534" cy="431.40000000000003" rx="3.7520000000000007" ry="1.56" stroke-width="2.1"/>
<path class="l" d="M533.6 425 L533.6 430" />
<path class="l" d="M534.2 467.5 L534.2 475" />
<path class="n" d="M542.0 479.09999999999997 L541.7 477.59999999999997 C541.0 472.95 526.4000000000001 472.53 526.4000000000001 478.2 C526.4000000000001 483.65999999999997 534.98 483.65999999999997 537.32 481.644" stroke-width="2.9"/>
<path class="k" d="M458.9 471.5 V472.7 A8.1 5.0 0 0 0 475.1 472.7 V471.5 Z" />
<ellipse class="k" cx="467" cy="471.5" rx="8.1" ry="5.0" />
<ellipse cx="467.3" cy="471.7" rx="4.05" ry="1.7999999999999998" fill="#d8d8d8" stroke="none"/>
<g class="t"><path d="M 491.29 334.98 C 491.29 331.57 497.96 331.57 497.96 334.79 C 497.96 337.00 492.96 338.47 491.20 341.60 H 498.35" stroke-width="2.5"/><path d="M 505.23 332.40 C 500.96 332.40 500.96 341.60 505.23 341.60 C 509.49 341.60 509.49 332.40 505.23 332.40 Z" stroke-width="2.5"/></g>
<path class="l" d="M489.7 343.2 L471.9 358.4" />
<g class="t"><path d="M 493.28 361.06 V 369.43" stroke-width="2.5"/><path d="M 499.19 368.60 C 500.76 370.44 505.36 369.98 505.36 364.74 C 505.36 359.22 498.31 359.40 498.31 363.54 C 498.31 367.22 504.19 367.04 505.27 363.91" stroke-width="2.5"/></g>
<path class="l" d="M487.6 371.4 L475.6 377" />
<g class="t"><path d="M 554.68 332.66 V 341.03" stroke-width="2.5"/><path d="M 564.88 336.43 C 561.40 336.43 561.70 332.20 564.88 332.20 C 568.07 332.20 568.36 336.43 564.88 336.43 C 560.52 336.43 560.42 341.40 564.88 341.40 C 569.34 341.40 569.24 336.43 564.88 336.43 Z" stroke-width="2.5"/></g>
<path class="l" d="M551.5 341.9 L539 352.2" />
<g class="t"><path d="M 624.78 410.06 V 418.43" stroke-width="2.5"/><path d="M 637.87 410.80 C 636.21 408.96 631.60 409.42 631.60 414.66 C 631.60 420.18 638.66 420.00 638.66 415.86 C 638.66 412.18 632.78 412.36 631.70 415.49" stroke-width="2.5"/></g>
<path class="l" d="M601.6 381.4 L621.7 401.5 L614.3 376" />
<g class="t"><path d="M 592.18 429.86 V 438.23" stroke-width="2.5"/><path d="M 605.57 429.40 H 599.98 L 599.39 433.63 C 601.16 432.16 606.06 432.34 606.06 435.47 C 606.06 439.15 600.18 439.34 598.90 436.76" stroke-width="2.5"/></g>
<path class="l" d="M560.2 407.1 L587.6 426.2" />
<g class="t"><path d="M 571.18 450.56 V 458.93" stroke-width="2.5"/><path d="M 577.90 450.10 H 584.96 L 580.45 459.30" stroke-width="2.5"/></g>
<path class="l" d="M541.2 450 L565 452.9" />
<g class="t"><path d="M 571.18 481.26 V 489.63" stroke-width="2.5"/><path d="M 581.38 485.03 C 577.90 485.03 578.20 480.80 581.38 480.80 C 584.57 480.80 584.86 485.03 581.38 485.03 C 577.02 485.03 576.92 490.00 581.38 490.00 C 585.84 490.00 585.74 485.03 581.38 485.03 Z" stroke-width="2.5"/></g>
<path class="l" d="M542.9 478.1 L565 483.3" />
<g class="t"><path d="M 491.79 484.18 C 491.79 480.77 498.46 480.77 498.46 483.99 C 498.46 486.20 493.46 487.67 491.70 490.80 H 498.85" stroke-width="2.5"/><path d="M 505.73 481.60 C 501.46 481.60 501.46 490.80 505.73 490.80 C 509.99 490.80 509.99 481.60 505.73 481.60 Z" stroke-width="2.5"/></g>
<path class="l" d="M474.5 474.3 L488.8 483.8" />
<path class="l" d="M330.7 96.5 L330.7 104.5" />
<path class="l" d="M330.6 131.5 L330.6 159.5" />
<path class="l" d="M331.0 167.2 L331.0 173.5" />
<path class="l" d="M331.6 195.2 L331.6 208" />
<path class="l" d="M331.8 229.5 L331.8 243" />
<path class="l" d="M332.2 251.2 L332.2 266" />
<path class="l" d="M317.7 324.5 L317.7 336.8" />
<path class="l" d="M317.7 361 L317.7 381.5" />
<path class="l" d="M317.8 403 L317.8 415" />
<path class="l" d="M300.6 462 L300.6 469.5" />
<path class="l" d="M300.6 477.5 L300.6 486" />
<path class="l" d="M300.4 505 L300.4 520" />
<path class="l" d="M300.2 541.5 L300.2 554.5" />
<path class="l" d="M300.2 562.5 L300.2 591" />
<path class="l" d="M317.8 618.5 L317.8 639" />
<path class="l" d="M462.8 176 L462.8 184.5" />
<path class="l" d="M467.0 463 L467.0 472.5" />
<path class="l" d="M528.0 77 L528.0 83.5" />
<path class="l" d="M533.2 367 L533.2 373.5" />
<path class="l" d="M387.0 168 L387.0 176.5" />
<path class="l" d="M355.0 478 L355.0 487" />
<circle cx="626.6" cy="681.7" r="0.9" fill="#ddd"/>
</g>
</svg>
</body></html>
